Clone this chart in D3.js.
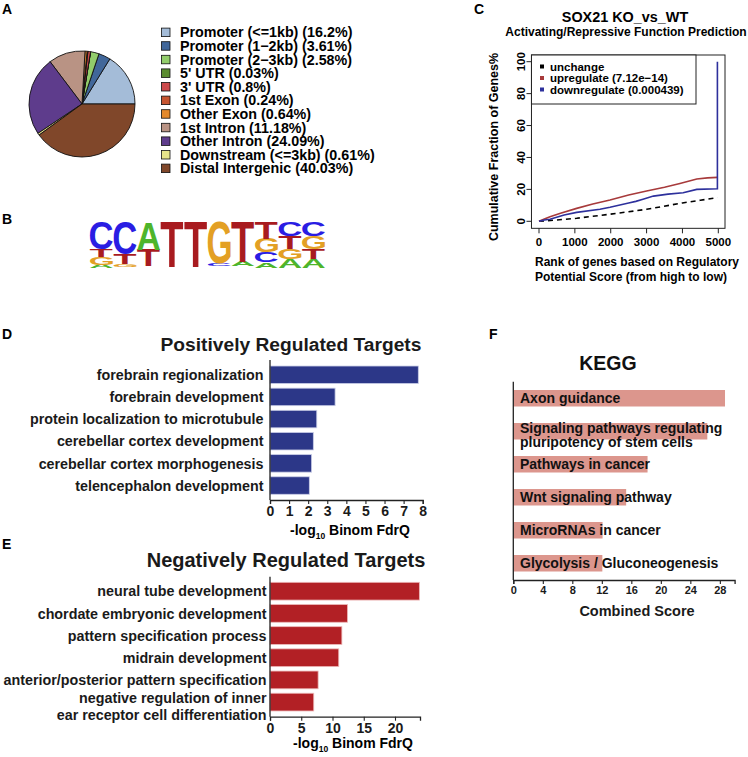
<!DOCTYPE html>
<html><head><meta charset="utf-8">
<script src="https://cdn.jsdelivr.net/npm/d3@7"></script>
<style>
body{margin:0;background:#fff;}
svg{font-family:"Liberation Sans",Arial,Helvetica,sans-serif;font-weight:bold;}
</style></head><body>
<svg id="fig" width="748" height="757"></svg>
<script>
// ---------------- DATA ----------------
// Panel A: peak annotation pie
const pieLabels = ["Promoter (<=1kb)", "Promoter (1−2kb)", "Promoter (2−3kb)", "5' UTR", "3' UTR", "1st Exon", "Other Exon", "1st Intron", "Other Intron", "Downstream (<=3kb)", "Distal Intergenic"];
const pieValues = [16.2, 3.61, 2.58, 0.03, 0.8, 0.24, 0.64, 11.18, 24.09, 0.61, 40.03];
const pieColors = ["#A4BCD8", "#41679A", "#92CD6B", "#5B8C30", "#CC4A4C", "#C65430", "#E3892C", "#B99384", "#5E3C8C", "#E6E48A", "#80472A"];

// Panel B: motif letter probabilities per position
const logoPositions = [1, 2, 3, 4, 5, 6, 7, 8, 9, 10];
const logoA = [0.07, 0.02, 0.60, 0.01, 0.01, 0.03, 0.10, 0.12, 0.20, 0.20];
const logoC = [0.59, 0.70, 0.03, 0.01, 0.01, 0.05, 0.02, 0.22, 0.31, 0.31];
const logoG = [0.17, 0.06, 0.01, 0.00, 0.00, 0.90, 0.02, 0.30, 0.22, 0.27];
const logoT = [0.17, 0.22, 0.36, 0.98, 0.98, 0.02, 0.86, 0.36, 0.27, 0.22];

// Panel C: cumulative fraction curves (rank, %)
const unchangeRank = [0, 500, 1050, 2000, 3000, 4000, 4500, 4975];
const unchangePct  = [0, 0.8, 1.9, 4.5, 7.5, 11.5, 13.2, 14.8];
const upRank = [0, 150, 307, 600, 1050, 1500, 1980, 2500, 3000, 3500, 3930, 4400, 4700, 4975];
const upPct  = [0, 1.5, 2.9, 5.0, 8.1, 10.8, 13.3, 16.5, 19.0, 21.3, 23.7, 26.5, 27.2, 27.5];
const downRank = [0, 150, 307, 700, 1050, 1700, 1980, 2500, 2700, 2900, 3190, 3600, 4020, 4400, 4975, 4975];
const downPct  = [0, 0.8, 1.3, 4.0, 5.6, 7.5, 8.8, 11.5, 12.5, 13.8, 15.8, 17.0, 17.9, 20.0, 20.4, 100];
const cdfLegend = ["unchange", "upregulate (7.12e−14)", "downregulate (0.000439)"];
const cdfXTicks = [0, 1000, 2000, 3000, 4000, 5000];
const cdfYTicks = [0, 20, 40, 60, 80, 100];

// Panel D
const posTerms = ["forebrain regionalization", "forebrain development", "protein localization to microtubule", "cerebellar cortex development", "cerebellar cortex morphogenesis", "telencephalon development"];
const posValues = [7.77, 3.41, 2.45, 2.27, 2.18, 2.06];
const posTicks = [0, 1, 2, 3, 4, 5, 6, 7, 8];

// Panel E
const negTerms = ["neural tube development", "chordate embryonic development", "pattern specification process", "midrain development", "anterior/posterior pattern specification", "negative regulation of inner\near receptor cell differentiation"];
const negValues = [23.9, 12.4, 11.5, 11.0, 7.7, 7.0];
const negTicks = [0, 5, 10, 15, 20];

// Panel F
const keggTerms = ["Axon guidance", "Signaling pathways regulating\npluripotency of stem cells", "Pathways in cancer", "Wnt signaling pathway", "MicroRNAs in cancer", "Glycolysis / Gluconeogenesis"];
const keggValues = [28.7, 26.3, 18.2, 15.3, 12.1, 12.07];
const keggTicks = [0, 4, 8, 12, 16, 20, 24, 28];

// ---------------- DRAW ----------------
const svg = d3.select("#fig");
function panelLetter(t, x, y) {
  svg.append("text").attr("x", x).attr("y", y).attr("font-size", 14).text(t);
}
panelLetter("A", 2, 14); panelLetter("B", 2, 224); panelLetter("C", 474, 14);
panelLetter("D", 2, 339); panelLetter("E", 2, 549); panelLetter("F", 489, 339);

// ---- Panel A ----
const pie = d3.pie().sort(null).value(d => d).startAngle(Math.PI / 2).endAngle(Math.PI / 2 - 2 * Math.PI);
const arc = d3.arc().innerRadius(0).outerRadius(53);
const gA = svg.append("g").attr("transform", "translate(82,104)");
gA.selectAll("path").data(pie(pieValues)).join("path")
  .attr("d", arc).attr("fill", (d, i) => pieColors[i])
  .attr("stroke", "#111").attr("stroke-width", 0.9).attr("stroke-linejoin", "round");
const legY = d3.scalePoint().domain(pieLabels).range([32.3, 168.3]);
const gL = svg.append("g");
gL.selectAll("rect").data(pieLabels).join("rect")
  .attr("x", 161.5).attr("y", d => legY(d) - 4.2).attr("width", 8.5).attr("height", 8.5)
  .attr("fill", (d, i) => pieColors[i]).attr("stroke", "#111").attr("stroke-width", 0.8);
gL.selectAll("text").data(pieLabels).join("text")
  .attr("x", 180).attr("y", d => legY(d)).attr("dy", "0.36em").attr("font-size", 14.3)
  .text((d, i) => `${d} (${pieValues[i]}%)`);

// ---- Panel B: sequence logo ----
const logoColors = { A: "#4EB52B", C: "#2A1DE3", G: "#E3A024", T: "#A81B1F" };
const lx = d3.scaleBand().domain(logoPositions).range([90, 325]).paddingInner(0.03);
const ly = d3.scaleLinear().domain([0, 1]).range([268, 222]);
const mctx = document.createElement("canvas").getContext("2d");
mctx.font = "bold 100px 'Liberation Sans'";
const gB = svg.append("g");
logoPositions.forEach((p, i) => {
  const col = [["A", logoA[i]], ["C", logoC[i]], ["G", logoG[i]], ["T", logoT[i]]]
    .sort((a, b) => a[1] - b[1]);
  let acc = 0;
  col.forEach(([L, v]) => {
    if (v <= 0) return;
    const y0 = ly(acc), y1 = ly(acc + v); acc += v;
    const h = y0 - y1; if (h < 2) return;
    const m = mctx.measureText(L);
    const left = m.actualBoundingBoxLeft, right = m.actualBoundingBoxRight;
    const asc = m.actualBoundingBoxAscent, desc = m.actualBoundingBoxDescent;
    const w = lx.bandwidth();
    const sx = w / (left + right), sy = h / (asc + desc);
    gB.append("text").attr("font-size", 100).attr("font-family", "Liberation Sans")
      .attr("fill", logoColors[L])
      .attr("transform", `translate(${lx(p) + left * sx},${y1 + asc * sy}) scale(${sx},${sy})`)
      .text(L);
  });
});

// ---- Panel C ----
const cx = d3.scaleLinear().domain([0, 5000]).range([539, 718.3]);
const cy = d3.scaleLinear().domain([0, 100]).range([221.3, 61.7]);
const gC = svg.append("g");
const bx0 = cx(-210), bx1 = cx(5187), by0 = cy(-4.4), by1 = cy(104.2);
const line = d3.line().x(d => cx(d[0])).y(d => cy(d[1]));
gC.append("path").datum(d3.zip(unchangeRank, unchangePct)).attr("d", line)
  .attr("fill", "none").attr("stroke", "#000").attr("stroke-width", 1.6).attr("stroke-dasharray", "5,4");
gC.append("path").datum(d3.zip(upRank, upPct)).attr("d", line)
  .attr("fill", "none").attr("stroke", "#A73A3B").attr("stroke-width", 1.6);
gC.append("path").datum(d3.zip(downRank, downPct)).attr("d", line)
  .attr("fill", "none").attr("stroke", "#2D309C").attr("stroke-width", 1.6);
gC.append("rect").attr("x", bx0).attr("y", by1).attr("width", bx1 - bx0).attr("height", by0 - by1)
  .attr("fill", "none").attr("stroke", "#222").attr("stroke-width", 1);
gC.selectAll(".xt").data(cdfXTicks).join("line").attr("x1", d => cx(d)).attr("x2", d => cx(d))
  .attr("y1", by0).attr("y2", by0 + 5).attr("stroke", "#222");
gC.selectAll(".xl").data(cdfXTicks).join("text").attr("x", d => cx(d)).attr("y", 245.5)
  .attr("text-anchor", "middle").attr("font-size", 11.5).text(d => d);
gC.selectAll(".yt").data(cdfYTicks).join("line").attr("y1", d => cy(d)).attr("y2", d => cy(d))
  .attr("x1", bx0).attr("x2", bx0 - 5).attr("stroke", "#222");
gC.selectAll(".yl").data(cdfYTicks).join("text")
  .attr("transform", d => `translate(524.5,${cy(d)}) rotate(-90)`)
  .attr("text-anchor", "middle").attr("font-size", 11.5).text(d => d);
// legend
gC.append("rect").attr("x", bx0).attr("y", by1).attr("width", 696 - bx0).attr("height", 104 - by1)
  .attr("fill", "#fff").attr("stroke", "#222").attr("stroke-width", 1);
const cdfColors = ["#000", "#A73A3B", "#2D309C"];
const cl = d3.scalePoint().domain(cdfLegend).range([66.5, 89.5]);
gC.selectAll(".lk").data(cdfLegend).join("rect").attr("x", 540).attr("y", d => cl(d) - 2)
  .attr("width", 4).attr("height", 4).attr("fill", (d, i) => cdfColors[i]);
gC.selectAll(".lt").data(cdfLegend).join("text").attr("x", 550).attr("y", d => cl(d)).attr("dy", "0.36em")
  .attr("font-size", 11.5).text(d => d);
gC.append("text").attr("x", 625).attr("y", 22).attr("text-anchor", "middle").attr("font-size", 14.4).text("SOX21 KO_vs_WT");
gC.append("text").attr("x", 626).attr("y", 36).attr("text-anchor", "middle").attr("font-size", 12).text("Activating/Repressive Function Prediction");
gC.append("text").attr("transform", "translate(498,147) rotate(-90)").attr("text-anchor", "middle")
  .attr("font-size", 12.5).text("Cumulative Fraction of Genes%");
gC.append("text").attr("x", 535).attr("y", 266).attr("font-size", 12).text("Rank of genes based on Regulatory");
gC.append("text").attr("x", 535).attr("y", 281).attr("font-size", 12).text("Potential Score (from high to low)");

// ---- Horizontal bar panels ----
function logTitle(g, x, y) {
  const t = g.append("text").attr("x", x).attr("y", y).attr("text-anchor", "middle").attr("font-size", 14);
  t.append("tspan").text("-log");
  t.append("tspan").attr("font-size", 8.5).attr("dy", 3.5).text("10");
  t.append("tspan").attr("dy", -3.5).text(" Binom FdrQ");
}
function barPanel(o) {
  const g = svg.append("g");
  const x = d3.scaleLinear().domain(o.xDomain).range(o.xRange);
  const y = d3.scaleBand().domain(o.terms).range(o.yRange).paddingInner(o.pin).paddingOuter(o.pout);
  g.selectAll("rect").data(o.terms).join("rect")
    .attr("x", x(0)).attr("y", d => y(d)).attr("height", y.bandwidth())
    .attr("width", (d, i) => x(o.values[i]) - x(0))
    .attr("fill", o.color).attr("stroke", o.stroke).attr("stroke-width", o.sw);
  const ax = g.append("g").attr("transform", `translate(0,${o.axisY})`)
    .call(d3.axisBottom(x).tickValues(o.ticks).tickSizeOuter(0).tickSize(4).tickPadding(2));
  ax.select(".domain").attr("stroke", "#222").attr("stroke-width", 1.3);
  ax.selectAll(".tick line").attr("stroke", "#222").attr("stroke-width", 1.1);
  ax.selectAll(".tick text").attr("font-size", o.tickFont).attr("font-family", null).attr("fill", "#1a1a1a");
  g.append("line").attr("x1", x(0)).attr("x2", x(0)).attr("y1", o.axisTop).attr("y2", o.axisY)
    .attr("stroke", "#222").attr("stroke-width", 1.3);
  return { g, x, y };
}

// Panel D
const D = barPanel({ terms: posTerms, values: posValues, xDomain: [0, 8], xRange: [270, 422.7],
  yRange: [363.8, 496.5], pin: 0.21, pout: 0.1, color: "#2C3788", stroke: "#C9CDE6", sw: 0.8,
  axisY: 500, axisTop: 360, ticks: posTicks, tickFont: 14 });
D.g.selectAll(".lab").data(posTerms).join("text").attr("x", 263.5).attr("y", d => D.y(d) + D.y.bandwidth() / 2)
  .attr("dy", "0.36em").attr("text-anchor", "end").attr("font-size", 14.3).attr("fill", "#1a1a1a").text(d => d);
D.g.append("text").attr("x", 291).attr("y", 351).attr("text-anchor", "middle").attr("font-size", 19.2).attr("fill", "#1a1a1a").text("Positively Regulated Targets");
logTitle(D.g, 350, 535);

// Panel E
const E = barPanel({ terms: negTerms, values: negValues, xDomain: [0, 24], xRange: [270, 420],
  yRange: [580.1, 713.2], pin: 0.2, pout: 0.1, color: "#B22025", stroke: "#EDB9B9", sw: 0.8,
  axisY: 716.7, axisTop: 576.7, ticks: negTicks, tickFont: 14 });
E.g.selectAll(".lab").data(negTerms).join("text").attr("text-anchor", "end").attr("font-size", 14.3).attr("fill", "#1a1a1a")
  .each(function (d) {
    const parts = d.split("\n");
    const cy0 = E.y(d) + E.y.bandwidth() / 2;
    const t = d3.select(this);
    if (parts.length === 1) {
      t.append("tspan").attr("x", 266.5).attr("y", cy0).attr("dy", "0.36em").text(d);
    } else {
      t.append("tspan").attr("x", 266.5).attr("y", cy0 - 4).attr("dy", "0.36em").text(parts[0]);
      t.append("tspan").attr("x", 266.5).attr("y", cy0 + 13).attr("dy", "0.36em").text(parts[1]);
    }
  });
E.g.append("text").attr("x", 286).attr("y", 567).attr("text-anchor", "middle").attr("font-size", 20).attr("fill", "#1a1a1a").text("Negatively Regulated Targets");
logTitle(E.g, 353, 748);

// Panel F
const F = barPanel({ terms: keggTerms, values: keggValues, xDomain: [0, 30], xRange: [513.3, 734.6],
  yRange: [381.75, 579.75], pin: 0.5, pout: 0.25, color: "#DC968D", stroke: "none", sw: 0,
  axisY: 580, axisTop: 381.7, ticks: keggTicks, tickFont: 11 });
F.g.selectAll(".lab").data(keggTerms).join("text").attr("font-size", 14).attr("fill", "#111")
  .each(function (d) {
    const parts = d.split("\n");
    const cy0 = F.y(d) + F.y.bandwidth() / 2;
    const t = d3.select(this);
    if (parts.length === 1) {
      t.append("tspan").attr("x", 520).attr("y", cy0).attr("dy", "0.36em").text(d);
    } else {
      t.append("tspan").attr("x", 520).attr("y", cy0 - 3.3).attr("dy", "0.36em").text(parts[0]);
      t.append("tspan").attr("x", 520).attr("y", cy0 + 10.4).attr("dy", "0.36em").text(parts[1]);
    }
  });
F.g.append("text").attr("x", 608).attr("y", 370).attr("text-anchor", "middle").attr("font-size", 19.5).attr("fill", "#111").text("KEGG");
F.g.append("text").attr("x", 637).attr("y", 616).attr("text-anchor", "middle").attr("font-size", 14.5).attr("fill", "#1a1a1a").text("Combined Score");
</script>
</body></html>
